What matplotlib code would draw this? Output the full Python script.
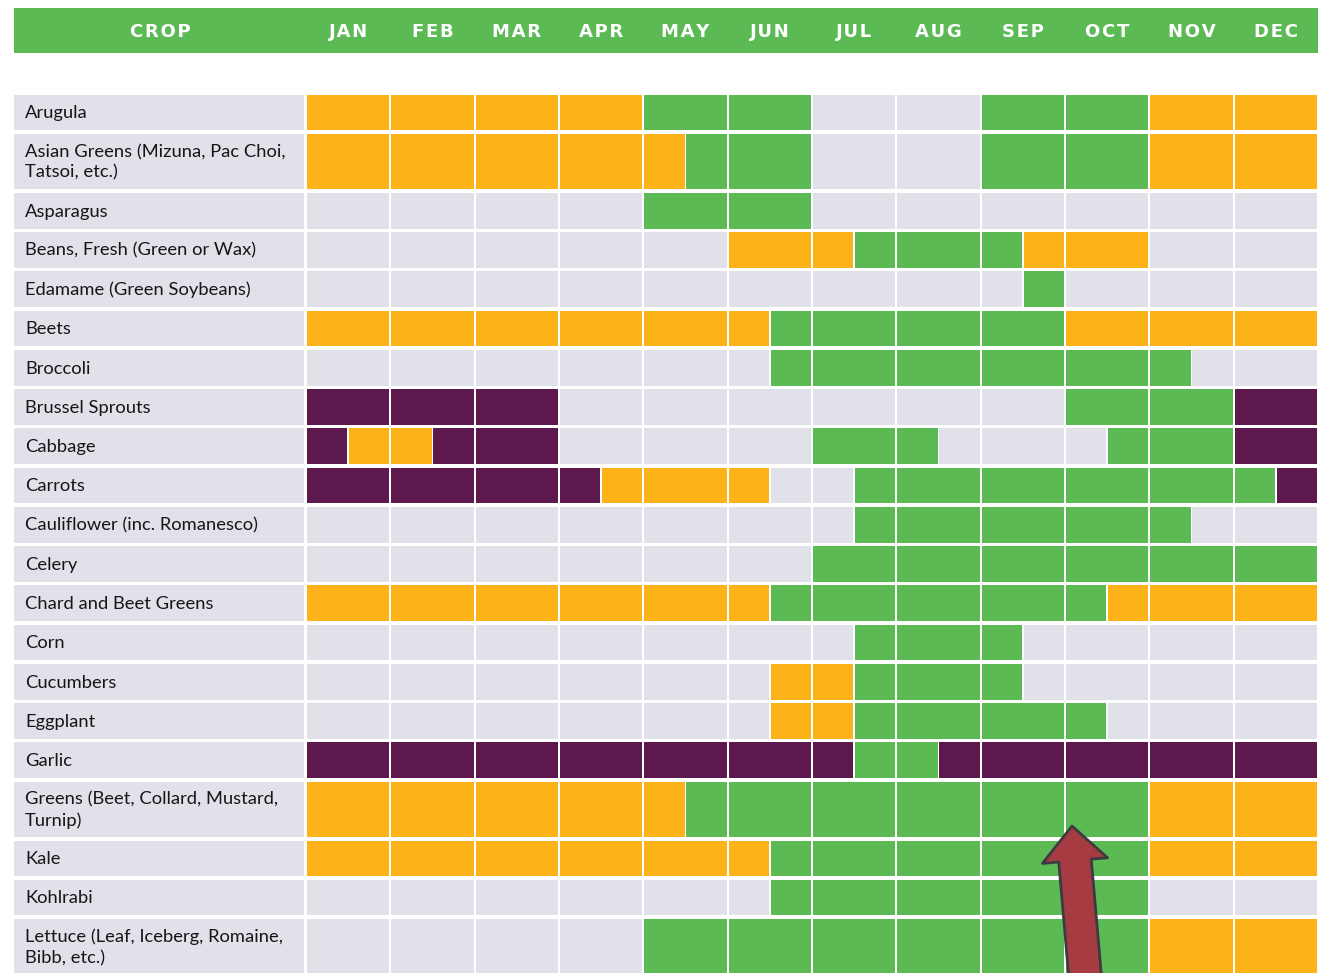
import matplotlib
matplotlib.use("Agg")
import matplotlib.pyplot as plt

# ---------------- data ----------------
months = ["JAN", "FEB", "MAR", "APR", "MAY", "JUN",
          "JUL", "AUG", "SEP", "OCT", "NOV", "DEC"]
header_label = "CROP"

crops = [
    "Arugula",
    "Asian Greens (Mizuna, Pac Choi,\nTatsoi, etc.)",
    "Asparagus",
    "Beans, Fresh (Green or Wax)",
    "Edamame (Green Soybeans)",
    "Beets",
    "Broccoli",
    "Brussel Sprouts",
    "Cabbage",
    "Carrots",
    "Cauliflower (inc. Romanesco)",
    "Celery",
    "Chard and Beet Greens",
    "Corn",
    "Cucumbers",
    "Eggplant",
    "Garlic",
    "Greens (Beet, Collard, Mustard,\nTurnip)",
    "Kale",
    "Kohlrabi",
    "Lettuce (Leaf, Iceberg, Romaine,\nBibb, etc.)",
]

# availability per half-month (24 halves, JAN first half .. DEC second half)
# '.' = none, 'O' = orange, 'G' = green, 'P' = purple
schedule = [
    "OOOOOOOOGGGG....GGGGOOOO",  # Arugula
    "OOOOOOOOOGGG....GGGGOOOO",  # Asian Greens
    "........GGGG............",  # Asparagus
    "..........OOOGGGGOOO....",  # Beans
    ".................G......",  # Edamame
    "OOOOOOOOOOOGGGGGGGOOOOOO",  # Beets
    "...........GGGGGGGGGG...",  # Broccoli
    "PPPPPP............GGGGPP",  # Brussel Sprouts
    "POOPPP......GGG....GGGPP",  # Cabbage
    "PPPPPPPOOOO..GGGGGGGGGGP",  # Carrots
    ".............GGGGGGGG...",  # Cauliflower
    "............GGGGGGGGGGGG",  # Celery
    "OOOOOOOOOOOGGGGGGGGOOOOO",  # Chard
    ".............GGGG.......",  # Corn
    "...........OOGGGG.......",  # Cucumbers
    "...........OOGGGGGG.....",  # Eggplant
    "PPPPPPPPPPPPPGGPPPPPPPPP",  # Garlic
    "OOOOOOOOOGGGGGGGGGGGOOOO",  # Greens
    "OOOOOOOOOOOGGGGGGGGGOOOO",  # Kale
    "...........GGGGGGGGG....",  # Kohlrabi
    "........GGGGGGGGGGGGOOOO",  # Lettuce
]

# ---------------- style ----------------
COL = {".": "#E1E1EA", "O": "#FDB219", "G": "#5CBA54", "P": "#5D194D"}
HEADER_GREEN = "#5CBA54"
LABEL_BG = "#E1E1EA"
TEXT_COL = "#161616"

PX_X = 42.167           # pixels per half-month
PX_Y = 39.25            # pixels per row unit
X0_PX, Y0_PX = 306, 93.0
W, H = 1326, 973

fig = plt.figure(figsize=(W / 100, H / 100), dpi=100)
ax = fig.add_axes([0, 0, 1, 1])
ax.set_xlim((0 - X0_PX) / PX_X, (W - X0_PX) / PX_X)
ax.set_ylim((H - Y0_PX) / PX_Y, (0 - Y0_PX) / PX_Y)
ax.axis("off")

label_left = (14 - X0_PX) / PX_X
gx = 0.045      # column gap (half-month units)
gy = 0.09       # row gap (row units)

def spaced(s):
    return "\u200a".join(s)

# header
hdr_top, hdr_bot = (8 - Y0_PX) / PX_Y, (53 - Y0_PX) / PX_Y
ax.barh((hdr_top + hdr_bot) / 2, 24 - label_left, left=label_left,
        height=hdr_bot - hdr_top, color=HEADER_GREEN, linewidth=0)
hy = (hdr_top + hdr_bot) / 2 + 0.04
ax.text(label_left / 2, hy, spaced(header_label), color="white", fontsize=13,
        fontweight="bold", ha="center", va="center", family="DejaVu Sans")
for i, m in enumerate(months):
    ax.text(2 * i + 1, hy, spaced(m), color="white", fontsize=13, fontweight="bold",
            ha="center", va="center", family="DejaVu Sans")

# rows
y = 0.0
for crop, sched in zip(crops, schedule):
    h = 1.5 if "\n" in crop else 1.0
    yc = y + h / 2
    hh = h - gy
    # label cell
    ax.barh(yc, -label_left - gx, left=label_left, height=hh,
            color=LABEL_BG, linewidth=0)
    ax.text(label_left + 0.26, yc + 0.02, crop, color=TEXT_COL, fontsize=13.2,
            ha="left", va="center", family="Lato", linespacing=1.35)
    # month cells
    for m in range(12):
        a, b = sched[2 * m], sched[2 * m + 1]
        if a == b:
            segs = [(2 * m, 2, a)]
        else:
            segs = [(2 * m, 1, a), (2 * m + 1, 1, b)]
        for left, w, c in segs:
            ax.barh(yc, w - gx, left=left + gx / 2, height=hh,
                    color=COL[c], linewidth=0)
    y += h

# arrow annotation
tip = ((1072 - X0_PX) / PX_X, (826 - Y0_PX) / PX_Y)
tail = ((1088 - X0_PX) / PX_X, (1010 - Y0_PX) / PX_Y)
ax.annotate("", xy=tip, xytext=tail, annotation_clip=False,
            arrowprops=dict(arrowstyle="simple,head_length=2.5,head_width=4.7,tail_width=2.35",
                            mutation_scale=10, fc="#A63C41", ec="#3D3B42",
                            lw=2, shrinkA=0, shrinkB=0))

fig.savefig("out.png", dpi=100, facecolor="white")
